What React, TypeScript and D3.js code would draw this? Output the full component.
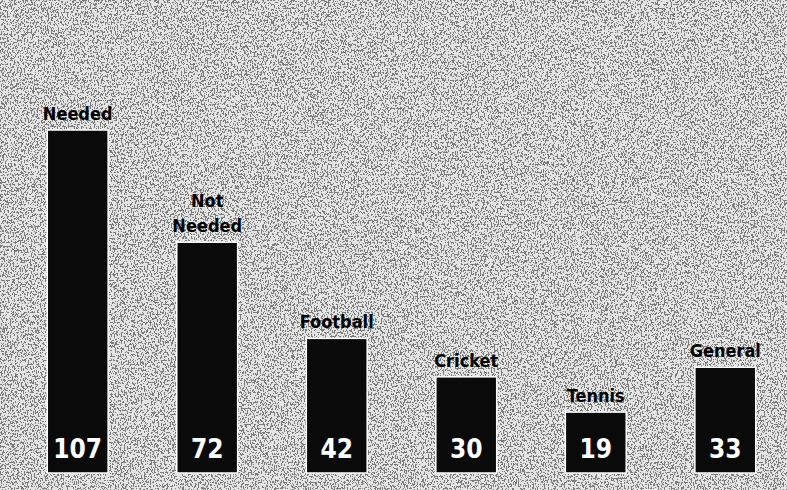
import React, { useEffect, useRef } from 'react';
import * as d3 from 'd3';

const categories = ['Needed', 'Not Needed', 'Football', 'Cricket', 'Tennis', 'General'];
const values = [107, 72, 42, 30, 19, 33];

const W = 787;
const H = 490;

export default function App() {
  const svgRef = useRef<SVGSVGElement>(null);

  useEffect(() => {
    if (!svgRef.current) return;
    const svg = d3.select(svgRef.current);
    svg.selectAll('*').remove();
    svg.attr('width', W).attr('height', H);

    // scanned halftone look for the background
    const defs = svg.append('defs');
    const f = defs.append('filter').attr('id', 'dots')
      .attr('x', 0).attr('y', 0).attr('width', '100%').attr('height', '100%');
    f.append('feTurbulence')
      .attr('type', 'fractalNoise')
      .attr('baseFrequency', '0.7 0.5')
      .attr('numOctaves', 3)
      .attr('seed', 7);
    f.append('feColorMatrix')
      .attr('type', 'matrix')
      .attr('values', '0 0 0 0 0  0 0 0 0 0  0 0 0 0 0  1 0 0 0 0');
    const thr = d3.range(20).map(i => (i >= 11 ? 1 : 0)).join(' ');
    f.append('feComponentTransfer')
      .append('feFuncA').attr('type', 'discrete').attr('tableValues', thr);

    svg.append('rect').attr('width', W).attr('height', H).attr('fill', '#e4e4e4');
    svg.append('rect').attr('width', W).attr('height', H)
      .attr('fill', '#333').attr('filter', 'url(#dots)').attr('opacity', 0.45);

    const x = d3.scaleBand()
      .domain(categories)
      .range([11, 792])
      .paddingInner(0.53)
      .paddingOuter(0.28);

    const y = d3.scaleLinear()
      .domain([0, 107])
      .range([473, 130]);

    const font = '"DejaVu Sans Condensed", "DejaVu Sans", sans-serif';

    const g = svg.append('g');

    g.selectAll('.bar')
      .data(values)
      .enter()
      .append('rect')
      .attr('class', 'bar')
      .attr('x', (d, i) => x(categories[i])!)
      .attr('y', d => y(d))
      .attr('width', x.bandwidth())
      .attr('height', d => y(0) - y(d))
      .attr('fill', '#0a0a0a')
      .attr('stroke', '#fff')
      .attr('stroke-width', 1.5);

    // value labels inside the bars
    g.selectAll('.val')
      .data(values)
      .enter()
      .append('text')
      .attr('x', (d, i) => x(categories[i])! + x.bandwidth() / 2)
      .attr('y', y(0) - 15)
      .attr('text-anchor', 'middle')
      .attr('font-family', font)
      .attr('font-weight', 'bold')
      .attr('font-size', 26)
      .attr('fill', '#fff')
      .text(d => d);

    // category labels above the bars
    categories.forEach((c, i) => {
      const cx = x(c)! + x.bandwidth() / 2;
      const words = c === 'Not Needed' ? ['Not', 'Needed'] : [c];
      const t = g.append('text')
        .attr('text-anchor', 'middle')
        .attr('font-family', font)
        .attr('font-weight', 'bold')
        .attr('font-size', 18)
        .attr('fill', '#000');
      words.forEach((w, j) => {
        t.append('tspan')
          .attr('x', cx)
          .attr('y', y(values[i]) - 10 - (words.length - 1 - j) * 25)
          .text(w);
      });
    });
  }, []);

  return (
    <div style={{ position: 'absolute', left: 0, top: 0 }}>
      <svg ref={svgRef} style={{ display: 'block' }} />
    </div>
  );
}
